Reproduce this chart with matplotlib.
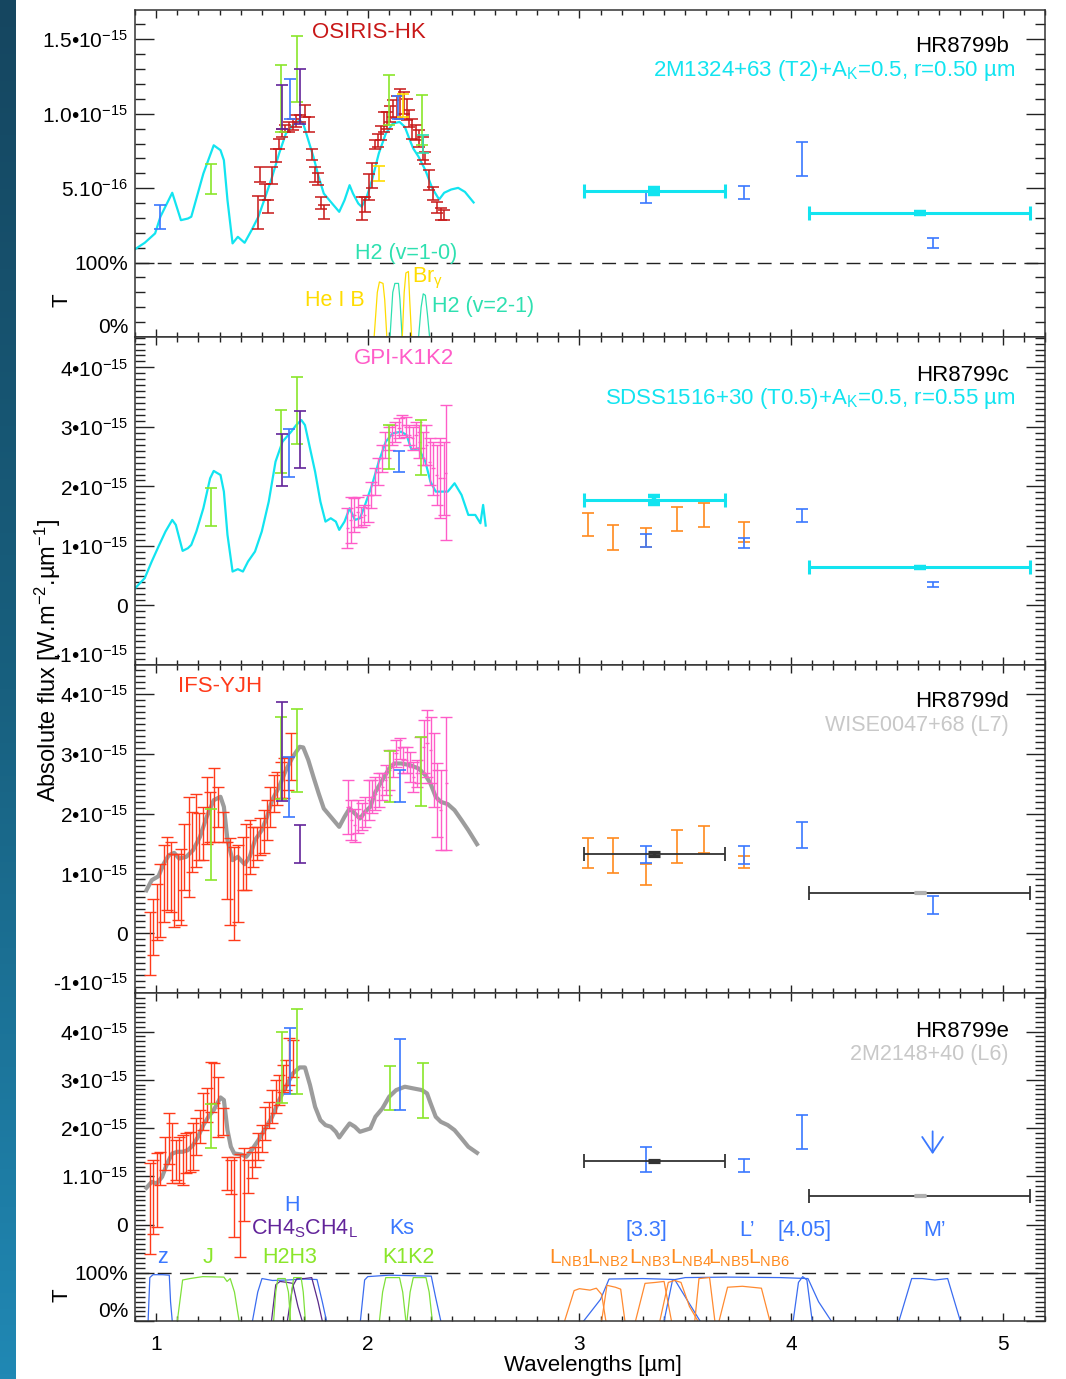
import numpy as np
import matplotlib
matplotlib.use("Agg")
import matplotlib.pyplot as plt
from matplotlib.ticker import FixedLocator
from matplotlib.colors import LinearSegmentedColormap

plt.rcParams["font.family"] = ["Liberation Sans", "DejaVu Sans"]
plt.rcParams["mathtext.fontset"] = "custom"
plt.rcParams["mathtext.rm"] = "Liberation Sans"
plt.rcParams["mathtext.it"] = "Liberation Sans:italic"
plt.rcParams["mathtext.bf"] = "Liberation Sans:bold"

# fluxes are in units of 1e-15 W m^-2 um^-1, wavelengths in um

# ---------------- HR8799b ----------------
b_model_wl = [0.898, 0.946, 0.995, 1.020, 1.076, 1.117, 1.150, 1.166, 1.223, 1.272,
              1.304, 1.320, 1.337, 1.361, 1.386, 1.418, 1.451, 1.483, 1.516, 1.548,
              1.581, 1.613, 1.646, 1.678, 1.695, 1.719, 1.743, 1.768, 1.792, 1.825,
              1.865, 1.890, 1.914, 1.930, 1.955, 1.971, 1.995, 2.020, 2.052, 2.085,
              2.118, 2.150, 2.175, 2.199, 2.215, 2.240, 2.272, 2.305, 2.337, 2.361,
              2.394, 2.427, 2.459, 2.500]
b_model_f = [0.088, 0.133, 0.196, 0.308, 0.469, 0.285, 0.296, 0.308, 0.598, 0.788,
             0.755, 0.688, 0.419, 0.129, 0.173, 0.133, 0.218, 0.308, 0.442, 0.576,
             0.733, 0.867, 0.923, 0.956, 0.934, 0.822, 0.711, 0.576, 0.464, 0.408,
             0.341, 0.419, 0.520, 0.464, 0.397, 0.375, 0.442, 0.554, 0.733, 0.867,
             0.934, 0.945, 0.912, 0.822, 0.766, 0.711, 0.621, 0.498, 0.424, 0.469,
             0.491, 0.502, 0.475, 0.404]

b_osiris_wl = [1.480, 1.493, 1.516, 1.529, 1.548, 1.564, 1.581, 1.594, 1.610, 1.626,
               1.646, 1.662, 1.682, 1.703, 1.722, 1.735, 1.751, 1.763, 1.779, 1.792,
               1.971, 1.987, 2.004, 2.020, 2.033, 2.048, 2.064, 2.077, 2.090, 2.104,
               2.121, 2.137, 2.153, 2.170, 2.183, 2.196, 2.210, 2.226, 2.243, 2.259,
               2.272, 2.291, 2.308, 2.329, 2.348, 2.362]
b_osiris_lo = [0.225, 0.542, 0.419, 0.330, 0.531, 0.677, 0.766, 0.845, 0.878, 0.878,
               0.889, 0.912, 0.945, 0.979, 0.878, 0.688, 0.542, 0.520, 0.363, 0.296,
               0.285, 0.341, 0.419, 0.498, 0.766, 0.777, 0.822, 0.878, 0.900, 0.945,
               0.979, 0.974, 0.967, 1.001, 0.956, 0.912, 0.833, 0.822, 0.777, 0.692,
               0.661, 0.487, 0.419, 0.330, 0.285, 0.285]
b_osiris_hi = [0.446, 0.639, 0.531, 0.419, 0.643, 0.760, 0.833, 0.900, 0.923, 0.945,
               0.967, 0.990, 0.990, 1.057, 0.979, 0.762, 0.643, 0.599, 0.442, 0.386,
               0.442, 0.442, 0.598, 0.666, 0.822, 0.867, 0.916, 1.012, 1.012, 1.050,
               1.091, 1.117, 1.169, 1.146, 1.102, 1.023, 0.967, 0.923, 0.889, 0.845,
               0.744, 0.621, 0.509, 0.408, 0.364, 0.352]

b_phot_wl = [1.019, 1.259, 1.589, 1.594, 1.634, 1.665, 1.678, 2.052, 2.101, 2.142,
             2.166, 2.256, 2.261, 3.313, 3.776, 4.052, 4.669]
b_phot_lo = [0.225, 0.464, 0.878, 0.900, 0.967, 1.079, 0.929, 0.549, 0.923, 0.967,
             0.979, 0.789, 0.733, 0.397, 0.428, 0.583, 0.095]
b_phot_hi = [0.386, 0.659, 1.330, 1.196, 1.236, 1.522, 1.303, 0.650, 1.263, 1.117,
             1.131, 1.124, 0.855, 0.480, 0.516, 0.811, 0.167]
b_phot_band = ["broad", "dual", "dual", "ch4", "broad", "dual", "ch4", "line", "dual", "broad",
               "line", "dual", "h2", "broad", "broad", "broad", "broad"]
b_synth_wl = [3.354, 4.607]
b_synth_half = [0.334, 0.521]
b_synth_f = [0.484, 0.334]
b_synth_err = [0.02, 0.008]

# ---------------- HR8799c ----------------
c_model_wl = [0.898, 0.946, 0.979, 1.011, 1.044, 1.076, 1.093, 1.125, 1.150, 1.166,
              1.190, 1.223, 1.255, 1.272, 1.304, 1.320, 1.337, 1.361, 1.386, 1.410,
              1.434, 1.467, 1.499, 1.532, 1.564, 1.597, 1.638, 1.662, 1.686, 1.703,
              1.727, 1.751, 1.776, 1.800, 1.825, 1.849, 1.865, 1.890, 1.914, 1.939,
              1.963, 1.987, 2.020, 2.052, 2.085, 2.118, 2.158, 2.183, 2.207, 2.240,
              2.272, 2.296, 2.321, 2.378, 2.410, 2.443, 2.475, 2.508, 2.532, 2.545,
              2.557]
c_model_f = [0.280, 0.459, 0.738, 0.990, 1.242, 1.437, 1.353, 0.917, 0.962, 1.018,
             1.242, 1.633, 2.136, 2.260, 2.192, 1.913, 1.186, 0.570, 0.610, 0.570,
             0.738, 0.906, 1.242, 1.745, 2.416, 2.752, 2.919, 3.031, 3.115, 3.031,
             2.640, 2.248, 1.745, 1.409, 1.465, 1.409, 1.270, 1.409, 1.633, 1.437,
             1.465, 1.689, 2.025, 2.416, 2.752, 2.892, 2.919, 2.864, 2.612, 2.640,
             2.416, 2.081, 1.913, 1.913, 2.053, 1.857, 1.521, 1.521, 1.381, 1.689,
             1.342]

c_gpi_wl = [1.903, 1.919, 1.935, 1.952, 1.968, 1.984, 2.000, 2.017, 2.033, 2.049,
            2.065, 2.082, 2.098, 2.114, 2.130, 2.147, 2.163, 2.179, 2.196, 2.212,
            2.228, 2.244, 2.261, 2.277, 2.293, 2.309, 2.326, 2.342, 2.358, 2.368]
c_gpi_f = [1.298, 1.438, 1.521, 1.577, 1.493, 1.521, 1.633, 1.857, 2.081, 2.248,
           2.472, 2.696, 2.808, 2.864, 2.919, 2.975, 3.031, 3.003, 2.864, 2.808,
           2.864, 2.752, 2.640, 2.696, 2.416, 2.304, 2.192, 2.136, 2.136, 2.230]
c_gpi_err = [0.336, 0.391, 0.280, 0.252, 0.168, 0.168, 0.224, 0.224, 0.224, 0.224,
             0.224, 0.224, 0.196, 0.168, 0.168, 0.168, 0.168, 0.168, 0.168, 0.196,
             0.224, 0.280, 0.280, 0.336, 0.392, 0.447, 0.503, 0.671, 0.615, 1.130]

c_phot_wl = [1.259, 1.589, 1.594, 1.630, 1.667, 1.682, 2.101, 2.147, 2.251, 3.041,
             3.159, 3.313, 3.313, 3.461, 3.590, 3.779, 3.776, 4.052, 4.669]
c_phot_lo = [1.337, 2.232, 2.013, 2.164, 2.713, 2.315, 2.287, 2.248, 2.192, 1.169,
             0.934, 0.990, 0.990, 1.253, 1.314, 1.063, 0.962, 1.398, 0.308]
c_phot_hi = [1.969, 3.283, 2.875, 2.959, 3.842, 3.266, 3.031, 2.601, 3.115, 1.549,
             1.353, 1.298, 1.202, 1.650, 1.717, 1.398, 1.130, 1.616, 0.386]
c_phot_band = ["dual", "dual", "ch4", "broad", "dual", "ch4", "dual", "broad", "dual", "lnb",
               "lnb", "lnb", "broad", "lnb", "lnb", "lnb", "broad", "broad", "broad"]
c_synth_f = [1.773, 0.643]
c_synth_err = [0.07, 0.008]

# ---------------- HR8799d ----------------
d_model_wl = [0.954, 0.979, 1.011, 1.036, 1.060, 1.085, 1.109, 1.142, 1.174, 1.207,
              1.239, 1.272, 1.304, 1.320, 1.337, 1.361, 1.386, 1.418, 1.442, 1.467,
              1.499, 1.524, 1.548, 1.581, 1.613, 1.646, 1.678, 1.695, 1.719, 1.743,
              1.768, 1.792, 1.825, 1.865, 1.890, 1.914, 1.939, 1.963, 1.987, 2.012,
              2.036, 2.069, 2.101, 2.126, 2.158, 2.199, 2.240, 2.272, 2.296, 2.321,
              2.345, 2.378, 2.410, 2.443, 2.475, 2.516]
d_model_f = [0.720, 0.888, 0.955, 1.167, 1.307, 1.346, 1.251, 1.279, 1.390, 1.614,
             1.949, 2.228, 2.284, 2.116, 1.558, 1.223, 1.279, 1.156, 1.279, 1.558,
             1.725, 1.949, 2.228, 2.451, 2.730, 2.954, 3.121, 3.110, 2.898, 2.619,
             2.339, 2.088, 1.949, 1.781, 1.949, 2.088, 2.004, 1.921, 2.032, 2.116,
             2.367, 2.563, 2.758, 2.842, 2.842, 2.814, 2.758, 2.647, 2.507, 2.284,
             2.200, 2.161, 2.060, 1.893, 1.725, 1.491]

d_ifs_wl = [0.971, 0.987, 1.003, 1.020, 1.036, 1.052, 1.068, 1.085, 1.101, 1.117,
            1.133, 1.155, 1.171, 1.187, 1.203, 1.220, 1.239, 1.255, 1.275, 1.291,
            1.317, 1.334, 1.350, 1.369, 1.389, 1.410, 1.426, 1.442, 1.459, 1.475,
            1.491, 1.508, 1.524, 1.540, 1.556, 1.573, 1.589, 1.605, 1.621, 1.638]
d_ifs_f = [-0.173, 0.106, 0.357, 0.552, 0.832, 0.999, 0.943, 0.720, 0.776, 0.776,
           1.279, 1.447, 1.530, 1.725, 1.614, 1.670, 2.060, 1.949, 2.144, 2.116,
           1.781, 1.055, 0.860, 0.664, 0.832, 1.167, 1.279, 1.446, 1.446, 1.502,
           1.614, 1.698, 1.893, 2.116, 2.339, 2.423, 2.563, 2.591, 2.675, 2.954]
d_ifs_err = [0.530, 0.475, 0.475, 0.614, 0.642, 0.614, 0.586, 0.614, 0.558, 0.642,
             0.558, 0.838, 0.503, 0.614, 0.391, 0.447, 0.558, 0.419, 0.614, 0.335,
             0.251, 0.475, 0.726, 0.782, 0.642, 0.447, 0.558, 0.447, 0.335, 0.279,
             0.307, 0.363, 0.335, 0.335, 0.307, 0.279, 0.307, 0.335, 0.279, 0.391]

d_gpi_wl = [1.906, 1.922, 1.938, 1.955, 1.971, 1.987, 2.004, 2.020, 2.036, 2.052,
            2.069, 2.085, 2.101, 2.118, 2.134, 2.150, 2.166, 2.183, 2.199, 2.215,
            2.231, 2.248, 2.264, 2.280, 2.297, 2.313, 2.329, 2.345, 2.371]
d_gpi_f = [2.116, 1.893, 1.809, 1.949, 1.949, 2.032, 2.228, 2.284, 2.339, 2.395,
           2.451, 2.563, 2.730, 2.842, 3.010, 3.093, 2.898, 2.898, 2.786, 2.619,
           2.675, 2.898, 3.121, 3.177, 3.066, 2.730, 2.228, 2.060, 2.507]
d_gpi_err = [0.447, 0.335, 0.279, 0.279, 0.223, 0.251, 0.335, 0.279, 0.279, 0.279,
             0.223, 0.251, 0.335, 0.223, 0.223, 0.168, 0.223, 0.223, 0.251, 0.251,
             0.223, 0.391, 0.447, 0.558, 0.558, 0.614, 0.614, 0.670, 1.117]

d_phot_wl = [1.259, 1.589, 1.594, 1.630, 1.667, 1.682, 2.105, 2.153, 2.251, 3.041,
             3.159, 3.313, 3.313, 3.461, 3.590, 3.779, 3.776, 4.052, 4.669]
d_phot_lo = [0.888, 2.239, 2.217, 1.949, 2.367, 1.184, 2.200, 2.200, 2.133, 1.100,
             1.016, 0.804, 1.184, 1.184, 1.351, 1.100, 1.167, 1.435, 0.329]
d_phot_hi = [2.088, 3.624, 3.875, 2.943, 3.747, 1.820, 3.054, 2.730, 3.289, 1.602,
             1.602, 1.167, 1.463, 1.725, 1.798, 1.290, 1.463, 1.865, 0.625]
d_phot_band = ["dual", "dual", "ch4", "broad", "dual", "ch4", "dual", "broad", "dual", "lnb",
               "lnb", "lnb", "broad", "lnb", "lnb", "lnb", "broad", "broad", "broad"]
d_synth_f = [1.323, 0.681]
d_synth_err = [0.03, 0.008]

# ---------------- HR8799e ----------------
e_model_wl = [0.954, 0.979, 1.003, 1.028, 1.052, 1.076, 1.101, 1.125, 1.150, 1.174,
              1.198, 1.223, 1.247, 1.272, 1.304, 1.320, 1.337, 1.353, 1.369, 1.402,
              1.426, 1.451, 1.483, 1.516, 1.548, 1.581, 1.613, 1.646, 1.678, 1.703,
              1.727, 1.751, 1.776, 1.800, 1.825, 1.849, 1.865, 1.890, 1.914, 1.939,
              1.963, 1.987, 2.012, 2.036, 2.069, 2.101, 2.134, 2.175, 2.215, 2.256,
              2.280, 2.297, 2.321, 2.345, 2.378, 2.410, 2.443, 2.475, 2.516]
e_model_f = [0.761, 0.885, 0.851, 0.989, 1.266, 1.473, 1.508, 1.508, 1.542, 1.646,
             1.819, 2.061, 2.234, 2.372, 2.635, 2.580, 1.957, 1.612, 1.473, 1.452,
             1.404, 1.542, 1.749, 1.992, 2.234, 2.580, 2.857, 3.133, 3.257, 3.257,
             2.891, 2.441, 2.165, 2.061, 2.027, 1.923, 1.805, 1.957, 2.095, 2.027,
             1.923, 1.957, 1.992, 2.234, 2.407, 2.649, 2.787, 2.857, 2.822, 2.787,
             2.718, 2.510, 2.234, 2.130, 2.061, 1.957, 1.784, 1.612, 1.487]

e_ifs_wl = [0.971, 0.987, 1.003, 1.020, 1.041, 1.060, 1.076, 1.093, 1.109, 1.125,
            1.142, 1.158, 1.174, 1.190, 1.207, 1.223, 1.239, 1.259, 1.275, 1.291,
            1.317, 1.337, 1.353, 1.369, 1.394, 1.415, 1.434, 1.451, 1.467, 1.483,
            1.499, 1.516, 1.532, 1.548, 1.564, 1.581, 1.597, 1.613, 1.630, 1.646]
e_ifs_f = [0.332, 0.574, 0.712, 1.162, 1.473, 1.784, 1.473, 1.335, 1.335, 1.335,
           1.473, 1.508, 1.612, 1.819, 2.027, 2.338, 2.476, 2.856, 2.925, 2.441,
           2.130, 1.057, 0.989, 0.574, 0.400, 0.830, 0.990, 1.233, 1.400, 1.612,
           1.784, 2.095, 2.268, 2.441, 2.648, 2.787, 3.029, 3.098, 3.375, 3.444]
e_ifs_err = [0.934, 0.761, 0.761, 0.346, 0.346, 0.519, 0.622, 0.415, 0.484, 0.519,
             0.415, 0.415, 0.484, 0.380, 0.346, 0.380, 0.346, 0.519, 0.415, 0.622,
             0.277, 0.346, 0.346, 0.830, 1.072, 0.760, 0.346, 0.277, 0.207, 0.277,
             0.277, 0.346, 0.277, 0.346, 0.346, 0.311, 0.277, 0.311, 0.484, 0.380]

e_phot_wl = [1.259, 1.594, 1.634, 1.665, 2.105, 2.150, 2.261, 3.313, 3.776, 4.052]
e_phot_lo = [1.591, 2.510, 2.704, 2.704, 2.372, 2.372, 2.213, 1.093, 1.093, 1.563]
e_phot_hi = [2.497, 3.997, 4.080, 4.467, 3.285, 3.838, 3.340, 1.611, 1.349, 2.268]
e_phot_band = ["dual", "dual", "broad", "dual", "dual", "broad", "dual", "broad", "broad", "broad"]
e_synth_f = [1.314, 0.595]
e_synth_err = [0.02, 0.008]
e_limit_wl = 4.669
e_limit_from = 1.99
e_limit_to = 1.40

# ---------------- filter transmissions (0..1) ----------------
nb_hei_wl = [2.030, 2.045, 2.055, 2.072, 2.080, 2.090]
nb_hei_t = [0.0, 0.60, 0.74, 0.72, 0.50, 0.0]
nb_h210_wl = [2.105, 2.118, 2.128, 2.145, 2.152, 2.162]
nb_h210_t = [0.0, 0.60, 0.72, 0.72, 0.50, 0.0]
nb_brg_wl = [2.163, 2.172, 2.180, 2.192, 2.198, 2.207]
nb_brg_t = [0.0, 0.60, 0.86, 0.88, 0.50, 0.0]
nb_h221_wl = [2.240, 2.252, 2.262, 2.272, 2.282, 2.292]
nb_h221_t = [0.0, 0.40, 0.58, 0.56, 0.30, 0.0]

f_z_wl = [0.962, 0.970, 0.985, 1.030, 1.062, 1.068, 1.076]
f_z_t = [0.0, 0.90, 0.96, 0.96, 0.95, 0.40, 0.0]
f_j_wl = [1.100, 1.125, 1.160, 1.220, 1.320, 1.335, 1.350, 1.370, 1.392]
f_j_t = [0.0, 0.85, 0.88, 0.92, 0.91, 0.82, 0.88, 0.60, 0.0]
f_h_wl = [1.455, 1.480, 1.500, 1.550, 1.620, 1.700, 1.760, 1.785, 1.805]
f_h_t = [0.0, 0.60, 0.88, 0.84, 0.85, 0.87, 0.86, 0.40, 0.0]
f_ch4s_wl = [1.545, 1.565, 1.585, 1.620, 1.645, 1.670, 1.690]
f_ch4s_t = [0.0, 0.75, 0.82, 0.80, 0.78, 0.30, 0.0]
f_ch4l_wl = [1.620, 1.645, 1.665, 1.700, 1.735, 1.765, 1.785]
f_ch4l_t = [0.0, 0.72, 0.88, 0.88, 0.90, 0.40, 0.0]
f_h2_wl = [1.555, 1.565, 1.575, 1.610, 1.625, 1.635]
f_h2_t = [0.0, 0.60, 0.88, 0.88, 0.60, 0.0]
f_h3_wl = [1.630, 1.640, 1.650, 1.685, 1.695, 1.705]
f_h3_t = [0.0, 0.60, 0.90, 0.90, 0.60, 0.0]
f_ks_wl = [1.965, 1.985, 2.000, 2.100, 2.200, 2.300, 2.320, 2.345]
f_ks_t = [0.0, 0.85, 0.92, 0.95, 0.94, 0.93, 0.50, 0.0]
f_k1_wl = [2.055, 2.070, 2.085, 2.150, 2.165, 2.180]
f_k1_t = [0.0, 0.60, 0.90, 0.90, 0.60, 0.0]
f_k2_wl = [2.185, 2.200, 2.215, 2.275, 2.290, 2.305]
f_k2_t = [0.0, 0.60, 0.90, 0.90, 0.60, 0.0]
f_33_wl = [3.020, 3.100, 3.140, 3.300, 3.450, 3.500, 3.570]
f_33_t = [0.0, 0.45, 0.87, 0.88, 0.86, 0.50, 0.0]
f_lp_wl = [3.400, 3.440, 3.500, 3.700, 3.950, 4.080, 4.130, 4.190]
f_lp_t = [0.0, 0.85, 0.90, 0.91, 0.90, 0.88, 0.40, 0.0]
f_405_wl = [4.010, 4.035, 4.055, 4.075, 4.100]
f_405_t = [0.0, 0.80, 0.92, 0.85, 0.0]
f_mp_wl = [4.510, 4.570, 4.620, 4.680, 4.740, 4.800]
f_mp_t = [0.0, 0.88, 0.88, 0.85, 0.88, 0.0]
f_lnb1_wl = [2.930, 2.975, 3.000, 3.050, 3.080, 3.105, 3.125]
f_lnb1_t = [0.0, 0.63, 0.67, 0.64, 0.68, 0.55, 0.0]
f_lnb2_wl = [3.105, 3.130, 3.170, 3.195, 3.215]
f_lnb2_t = [0.0, 0.74, 0.70, 0.66, 0.0]
f_lnb3_wl = [3.265, 3.310, 3.360, 3.400, 3.435]
f_lnb3_t = [0.0, 0.78, 0.80, 0.82, 0.0]
f_lnb4_wl = [3.380, 3.420, 3.450, 3.480, 3.520, 3.560]
f_lnb4_t = [0.0, 0.80, 0.84, 0.80, 0.30, 0.0]
f_lnb5_wl = [3.545, 3.565, 3.615, 3.640]
f_lnb5_t = [0.0, 0.88, 0.90, 0.0]
f_lnb6_wl = [3.660, 3.700, 3.770, 3.860, 3.900]
f_lnb6_t = [0.0, 0.70, 0.72, 0.68, 0.0]

# ---------------- styling ----------------
CYAN = "#12e4f0"
BLUE = "#3a78ff"
GREEN = "#8ae62a"
PURPLE = "#62249a"
ORANGE = "#ff8a1e"
DKRED = "#c81818"
RED = "#ff3a1a"
PINK = "#ff5cc8"
GREY = "#9c9c9c"
AQUA = "#2ee0b0"
YELLOW = "#ffdc00"
LGREY = "#c8c8c8"
PHOT = {"broad": BLUE, "dual": GREEN, "ch4": PURPLE, "lnb": ORANGE, "line": YELLOW, "h2": AQUA}

W, H = 1066, 1379
fig = plt.figure(figsize=(W / 100, H / 100), dpi=100)

# dark strip on the left edge
strip = fig.add_axes([0, 0, 16 / W, 1])
strip.imshow(np.linspace(0, 1, 256)[:, None], aspect="auto",
             cmap=LinearSegmentedColormap.from_list("s", ["#154660", "#18607f", "#2088b4"]))
strip.axis("off")

edges = [10, 337, 665, 993, 1321]
axes = []
for i in range(4):
    top, bot = edges[i], edges[i + 1]
    axes.append(fig.add_axes([135 / W, 1 - bot / H, 910 / W, (bot - top) / H]))


def frame(ax, ylim, major, labels, minor, bottom=False):
    ax.set_xlim(0.9, 5.2)
    ax.set_ylim(ylim)
    ax.xaxis.set_major_locator(FixedLocator([1, 2, 3, 4, 5]))
    ax.xaxis.set_minor_locator(FixedLocator(np.round(np.arange(0.9, 5.21, 0.1), 2)))
    ax.yaxis.set_major_locator(FixedLocator(major))
    ax.yaxis.set_minor_locator(FixedLocator(minor))
    ax.set_yticklabels([""] + labels[1:])
    ax.tick_params(which="both", direction="in", top=True, right=True, labelsize=15,
                   width=1.0, color="#222222")
    ax.tick_params(axis="y", which="major", length=13.5, pad=5)
    ax.tick_params(axis="y", which="minor", length=7)
    ax.tick_params(axis="x", which="major", length=6, pad=10)
    ax.tick_params(axis="x", which="minor", length=3.5)
    ax.tick_params(axis="x", labelbottom=bottom)
    for s in ax.spines.values():
        s.set_linewidth(1.1)
        s.set_color("#333333")
    # lowest label sits a little above its tick
    ax.annotate(labels[0], xy=(0, major[0]), xycoords=("axes fraction", "data"),
                xytext=(-5, 6.5), textcoords="offset points", ha="right", va="center",
                fontsize=15)


def phot(ax, wl, lo, hi, band):
    for w, l, h, b in zip(wl, lo, hi, band):
        ax.errorbar(w, (l + h) / 2, yerr=(h - l) / 2, fmt="none", ecolor=PHOT[b],
                    elinewidth=1.2, capsize=4.5, capthick=1.2, zorder=4)


def spec(ax, wl, f, err, color, xerr=None):
    ax.errorbar(wl, f, yerr=err, fmt="none", ecolor=color, elinewidth=1.0,
                capsize=4.3, capthick=1.0, zorder=3)
    if xerr is not None:
        ax.errorbar(wl, f, xerr=xerr, fmt="none", ecolor=color, elinewidth=1.0, zorder=3)


def synth(ax, f, err, color, lw, centers):
    ax.errorbar(b_synth_wl, f, xerr=b_synth_half, fmt="none", ecolor=color,
                elinewidth=lw, capsize=4.7, capthick=lw, zorder=5)
    for w, v, e, c in zip(b_synth_wl, f, err, centers):
        ax.errorbar(w, v, yerr=e, fmt="none", ecolor=c, elinewidth=lw + 1,
                    capsize=4.5, capthick=lw + 1, zorder=6)


def trans(ax, wl, t, color, t0, scale):
    ax.plot(wl, np.asarray(t) * scale + t0, color=color, lw=0.9, zorder=2)


def label(ax, x, y, s, color, size=15.5, ha="center", va="center"):
    ax.text(x, y, s, transform=ax.transAxes, color=color, fontsize=size, ha=ha, va=va)


def minors(lo, hi, step, skip):
    v = np.round(np.arange(lo, hi + 1e-9, step), 3)
    return [x for x in v if not np.any(np.isclose(x, skip))]


# ---- panel b
ax = axes[0]
frame(ax, (-0.5, 1.697), [-0.5, 0, 0.5, 1.0, 1.5],
      ["0%", "100%", "5.10$^{-16}$", "1.0•10$^{-15}$", "1.5•10$^{-15}$"],
      [-0.4, -0.3, -0.2, -0.1] + minors(0.1, 1.65, 0.1, [0.5, 1.0, 1.5]))
ax.axhline(0, color="#222222", lw=1.0, ls=(0, (10, 6)), zorder=1)
ax.plot(b_model_wl, b_model_f, color=CYAN, lw=1.6, zorder=2)
ax.errorbar(b_osiris_wl, [(l + h) / 2 for l, h in zip(b_osiris_lo, b_osiris_hi)],
            yerr=[(h - l) / 2 for l, h in zip(b_osiris_lo, b_osiris_hi)], fmt="none",
            ecolor=DKRED, elinewidth=1.1, capsize=4.3, capthick=1.1, zorder=3)
phot(ax, b_phot_wl, b_phot_lo, b_phot_hi, b_phot_band)
synth(ax, b_synth_f, b_synth_err, CYAN, 2.2, [CYAN, CYAN])
trans(ax, nb_hei_wl, nb_hei_t, YELLOW, -0.5, 0.5)
trans(ax, nb_h210_wl, nb_h210_t, AQUA, -0.5, 0.5)
trans(ax, nb_brg_wl, nb_brg_t, YELLOW, -0.5, 0.5)
trans(ax, nb_h221_wl, nb_h221_t, AQUA, -0.5, 0.5)
label(ax, 0.2566, 0.931, "OSIRIS-HK", DKRED, 16)
label(ax, 0.9604, 0.888, "HR8799b", "black", 16, ha="right")
label(ax, 0.9676, 0.8165, "2M1324+63 (T2)+A$_\\mathrm{K}$=0.5, r=0.50 µm", CYAN, 16, ha="right")
label(ax, 0.298, 0.254, "H2 (v=1-0)", AQUA)
label(ax, 0.304, 0.18, "Br$_\\mathrm{γ}$", YELLOW, ha="left")
label(ax, 0.2198, 0.113, "He I B", YELLOW)
label(ax, 0.3266, 0.092, "H2 (v=2-1)", AQUA, ha="left")

# ---- panel c
ax = axes[1]
flux_labels = ["-1•10$^{-15}$", "0", "1•10$^{-15}$", "2•10$^{-15}$", "3•10$^{-15}$", "4•10$^{-15}$"]
frame(ax, (-1.0, 4.51), [-1, 0, 1, 2, 3, 4], flux_labels,
      minors(-0.9, 4.5, 0.1, [0, 1, 2, 3, 4]))
ax.plot(c_model_wl, c_model_f, color=CYAN, lw=1.6, zorder=2)
spec(ax, c_gpi_wl, c_gpi_f, c_gpi_err, PINK, xerr=0.008)
phot(ax, c_phot_wl, c_phot_lo, c_phot_hi, c_phot_band)
synth(ax, c_synth_f, c_synth_err, CYAN, 2.2, [CYAN, CYAN])
label(ax, 0.2958, 0.933, "GPI-K1K2", PINK, 16)
label(ax, 0.9604, 0.884, "HR8799c", "black", 16, ha="right")
label(ax, 0.9676, 0.814, "SDSS1516+30 (T0.5)+A$_\\mathrm{K}$=0.5, r=0.55 µm", CYAN, 16, ha="right")

# ---- panel d
ax = axes[2]
frame(ax, (-1.0, 4.49), [-1, 0, 1, 2, 3, 4], flux_labels,
      minors(-0.9, 4.45, 0.1, [0, 1, 2, 3, 4]))
ax.plot(d_model_wl, d_model_f, color=GREY, lw=3.0, zorder=2.5)
spec(ax, d_ifs_wl, d_ifs_f, d_ifs_err, RED)
spec(ax, d_gpi_wl, d_gpi_f, d_gpi_err, PINK, xerr=0.008)
phot(ax, d_phot_wl, d_phot_lo, d_phot_hi, d_phot_band)
synth(ax, d_synth_f, d_synth_err, "#333333", 1.3, ["#333333", "#b0b0b0"])
label(ax, 0.0936, 0.933, "IFS-YJH", RED, 16)
label(ax, 0.9604, 0.888, "HR8799d", "black", 16, ha="right")
label(ax, 0.9604, 0.817, "WISE0047+68 (L7)", LGREY, 15.5, ha="right")

# ---- panel e
ax = axes[3]
frame(ax, (-2.0, 4.8), [-2, -1, 0, 1, 2, 3, 4],
      ["0%", "100%", "0", "1.10$^{-15}$", "2•10$^{-15}$", "3•10$^{-15}$", "4•10$^{-15}$"],
      minors(-1.9, 4.75, 0.1, [-1, 0, 1, 2, 3, 4]), bottom=True)
ax.set_xticklabels(["1", "2", "3", "4", "5"])
ax.axhline(-1, color="#222222", lw=1.0, ls=(0, (10, 6)), zorder=1)
ax.plot(e_model_wl, e_model_f, color=GREY, lw=3.0, zorder=2.5)
spec(ax, e_ifs_wl, e_ifs_f, e_ifs_err, RED)
phot(ax, e_phot_wl, e_phot_lo, e_phot_hi, e_phot_band)
synth(ax, e_synth_f, e_synth_err, "#333333", 1.3, ["#333333", "#b0b0b0"])
ax.annotate("", xy=(e_limit_wl, e_limit_to), xytext=(e_limit_wl, e_limit_from),
            arrowprops=dict(arrowstyle="->,head_length=0.45,head_width=0.3",
                            color=BLUE, lw=1.3, mutation_scale=25))
FB, FG, FP, FO = "#3a6cf0", "#7ee03a", "#5a2a8a", "#ff8a30"
for wl, t, c in [(f_z_wl, f_z_t, FB), (f_j_wl, f_j_t, FG), (f_h_wl, f_h_t, FB),
                 (f_ch4s_wl, f_ch4s_t, FP), (f_ch4l_wl, f_ch4l_t, FP),
                 (f_h2_wl, f_h2_t, FG), (f_h3_wl, f_h3_t, FG), (f_ks_wl, f_ks_t, FB),
                 (f_k1_wl, f_k1_t, FG), (f_k2_wl, f_k2_t, FG), (f_33_wl, f_33_t, FB),
                 (f_lp_wl, f_lp_t, FB), (f_405_wl, f_405_t, FB), (f_mp_wl, f_mp_t, FB),
                 (f_lnb1_wl, f_lnb1_t, FO), (f_lnb2_wl, f_lnb2_t, FO), (f_lnb3_wl, f_lnb3_t, FO),
                 (f_lnb4_wl, f_lnb4_t, FO), (f_lnb5_wl, f_lnb5_t, FO), (f_lnb6_wl, f_lnb6_t, FO)]:
    trans(ax, wl, t, c, -2.0, 1.0)
label(ax, 0.9604, 0.882, "HR8799e", "black", 16, ha="right")
label(ax, 0.9604, 0.814, "2M2148+40 (L6)", LGREY, 15.5, ha="right")
label(ax, 0.0297, 0.195, "z", BLUE)
label(ax, 0.080, 0.195, "J", GREEN)
label(ax, 0.172, 0.3515, "H", BLUE)
label(ax, 0.186, 0.2805, "CH4$_\\mathrm{S}$CH4$_\\mathrm{L}$", PURPLE)
label(ax, 0.170, 0.195, "H2H3", GREEN)
label(ax, 0.293, 0.2805, "Ks", BLUE)
label(ax, 0.300, 0.195, "K1K2", GREEN)
label(ax, 0.5615, 0.275, "[3.3]", BLUE)
label(ax, 0.6725, 0.275, "L’", BLUE)
label(ax, 0.7357, 0.275, "[4.05]", BLUE)
label(ax, 0.879, 0.275, "M’", BLUE)
for x, s in zip([0.4547, 0.4971, 0.5430, 0.5874, 0.6302, 0.6738],
                ["NB1", "NB2", "NB3", "NB4", "NB5", "NB6"]):
    label(ax, x, 0.176, "L$_\\mathrm{" + s + "}$", ORANGE, 15, ha="left", va="baseline")

fig.text(62 / W, 1 - 300 / H, "T", rotation=90, ha="center", va="center", fontsize=16)
fig.text(62 / W, 1 - 1295 / H, "T", rotation=90, ha="center", va="center", fontsize=16)
fig.text(47.5 / W, 1 - 660 / H, "Absolute flux [W.m$^{-2}$.µm$^{-1}$]", rotation=90,
         ha="center", va="center", fontsize=17)
fig.text(592.5 / W, 1 - 1365 / H, "Wavelengths [µm]", ha="center", va="center", fontsize=16)

fig.savefig("out.png", dpi=100)
